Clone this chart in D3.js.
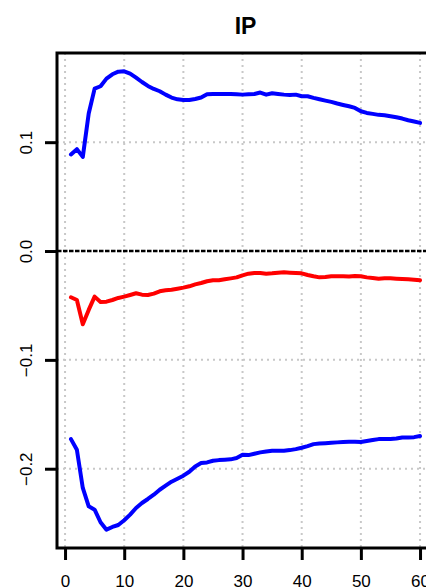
<!DOCTYPE html>
<html>
<head>
<meta charset="utf-8">
<script src="https://cdn.jsdelivr.net/npm/d3@7"></script>
<style>
  html, body { margin: 0; padding: 0; background: #fff; overflow: hidden; }
  svg { display: block; }
  text { font-family: "Liberation Sans", Arial, Helvetica, sans-serif; }
</style>
</head>
<body>
<svg id="chart" width="426" height="587"></svg>
<script>
const title = "IP";
const horizon = d3.range(1, 61);
const xTicks = [0, 10, 20, 30, 40, 50, 60];
const yTicks = [0.1, 0.0, -0.1, -0.2];
const yTickLabels = ["0.1", "0.0", "-0.1", "-0.2"];

const upperBand = [
  0.0887, 0.0936, 0.0865, 0.1263, 0.1492, 0.1514, 0.1584, 0.1624, 0.1648, 0.1651,
  0.1630, 0.1593, 0.1553, 0.1517, 0.1489, 0.1468, 0.1437, 0.1410, 0.1394, 0.1388,
  0.1388, 0.1397, 0.1410, 0.1440, 0.1443, 0.1443, 0.1443, 0.1443, 0.1440, 0.1437,
  0.1440, 0.1443, 0.1456, 0.1437, 0.1450, 0.1443, 0.1437, 0.1434, 0.1437, 0.1422,
  0.1422, 0.1407, 0.1394, 0.1382, 0.1370, 0.1355, 0.1342, 0.1330, 0.1315, 0.1284,
  0.1269, 0.1260, 0.1251, 0.1248, 0.1239, 0.1229, 0.1217, 0.1202, 0.1190, 0.1177
];

const response = [
  -0.0425, -0.0450, -0.0673, -0.0541, -0.0419, -0.0468, -0.0465, -0.0450, -0.0431, -0.0419,
  -0.0404, -0.0388, -0.0401, -0.0404, -0.0391, -0.0370, -0.0361, -0.0355, -0.0346, -0.0336,
  -0.0324, -0.0306, -0.0294, -0.0278, -0.0269, -0.0269, -0.0260, -0.0251, -0.0242, -0.0223,
  -0.0208, -0.0202, -0.0202, -0.0208, -0.0205, -0.0199, -0.0196, -0.0199, -0.0202, -0.0205,
  -0.0220, -0.0232, -0.0242, -0.0239, -0.0232, -0.0232, -0.0232, -0.0235, -0.0229, -0.0232,
  -0.0242, -0.0248, -0.0254, -0.0251, -0.0251, -0.0254, -0.0257, -0.0260, -0.0263, -0.0269
];

const lowerBand = [
  -0.1728, -0.1826, -0.2177, -0.2346, -0.2376, -0.2492, -0.2560, -0.2535, -0.2517, -0.2474,
  -0.2422, -0.2361, -0.2315, -0.2278, -0.2239, -0.2193, -0.2156, -0.2119, -0.2092, -0.2064,
  -0.2028, -0.1979, -0.1948, -0.1942, -0.1927, -0.1921, -0.1917, -0.1914, -0.1902, -0.1872,
  -0.1875, -0.1862, -0.1850, -0.1841, -0.1835, -0.1835, -0.1835, -0.1829, -0.1820, -0.1807,
  -0.1792, -0.1774, -0.1768, -0.1765, -0.1761, -0.1758, -0.1755, -0.1752, -0.1752, -0.1755,
  -0.1746, -0.1737, -0.1728, -0.1728, -0.1728, -0.1722, -0.1713, -0.1713, -0.1710, -0.1700
];

const series = [
  { values: upperBand, color: "#0000ff" },
  { values: response, color: "#ff0000" },
  { values: lowerBand, color: "#0000ff" }
];

const svg = d3.select("#chart");
const box = { left: 57, right: 434, top: 53, bottom: 548 };

// R-style 4% extension of data ranges
const xr = d3.extent(horizon);
const xpad = (xr[1] - xr[0]) * 0.04;
const allY = upperBand.concat(response, lowerBand);
const yr = d3.extent(allY);
const ypad = (yr[1] - yr[0]) * 0.04;

const x = d3.scaleLinear().domain([xr[0] - xpad, xr[1] + xpad]).range([box.left, box.right]);
const y = d3.scaleLinear().domain([yr[0] - ypad, yr[1] + ypad]).range([box.bottom, box.top]);

// grid
const grid = svg.append("g");
grid.selectAll("line.vx").data(xTicks).enter().append("line")
  .attr("x1", d => x(d)).attr("x2", d => x(d))
  .attr("y1", box.top).attr("y2", box.bottom)
  .attr("stroke", "#c8c8c8").attr("stroke-width", 2).attr("stroke-dasharray", "2,4");
grid.selectAll("line.hy").data(yTicks.filter(d => d !== 0)).enter().append("line")
  .attr("x1", box.left).attr("x2", box.right)
  .attr("y1", d => y(d)).attr("y2", d => y(d))
  .attr("stroke", "#c8c8c8").attr("stroke-width", 2).attr("stroke-dasharray", "2,4");

// zero line
svg.append("line")
  .attr("x1", box.left).attr("x2", box.right)
  .attr("y1", y(0)).attr("y2", y(0))
  .attr("stroke", "#000").attr("stroke-width", 2.5).attr("stroke-dasharray", "4.5,1.5");

// series
const line = d3.line().x((d, i) => x(horizon[i])).y(d => y(d));
svg.selectAll("path.series").data(series).enter().append("path")
  .attr("class", "series")
  .attr("d", d => line(d.values))
  .attr("fill", "none")
  .attr("stroke", d => d.color)
  .attr("stroke-width", 4)
  .attr("stroke-linejoin", "round")
  .attr("stroke-linecap", "round");

// box
svg.append("rect")
  .attr("x", box.left).attr("y", box.top)
  .attr("width", box.right - box.left).attr("height", box.bottom - box.top)
  .attr("fill", "none").attr("stroke", "#000").attr("stroke-width", 3);

// y axis
const yAxis = d3.axisLeft(y).tickValues(yTicks).tickSize(12)
  .tickFormat((d, i) => yTickLabels[i]);
const gy = svg.append("g").attr("transform", `translate(${box.left},0)`).call(yAxis);
gy.attr("font-size", null).attr("font-family", null);
gy.select(".domain").remove();
gy.selectAll(".tick line").attr("stroke", "#000").attr("stroke-width", 3);
gy.selectAll(".tick text")
  .attr("x", null).attr("dy", null)
  .attr("text-anchor", "middle")
  .attr("transform", "translate(-25,0) rotate(-90)")
  .style("font-size", "17px").attr("fill", "#000")
  .text((d, i) => yTickLabels[i].replace("-", "\u2212"));

// x axis
const xAxis = d3.axisBottom(x).tickValues(xTicks).tickSize(12).tickFormat(d3.format("d"));
const gx = svg.append("g").attr("transform", `translate(0,${box.bottom})`).call(xAxis);
gx.attr("font-size", null).attr("font-family", null);
gx.select(".domain").remove();
gx.selectAll(".tick line").attr("stroke", "#000").attr("stroke-width", 3);
gx.selectAll(".tick text")
  .attr("y", 39).attr("dy", null)
  .style("font-size", "17px").attr("fill", "#000");

// title
svg.append("text")
  .attr("x", (box.left + box.right) / 2).attr("y", 33.5)
  .attr("text-anchor", "middle")
  .style("font-size", "23px").attr("font-weight", "bold")
  .text(title);
</script>
</body>
</html>
